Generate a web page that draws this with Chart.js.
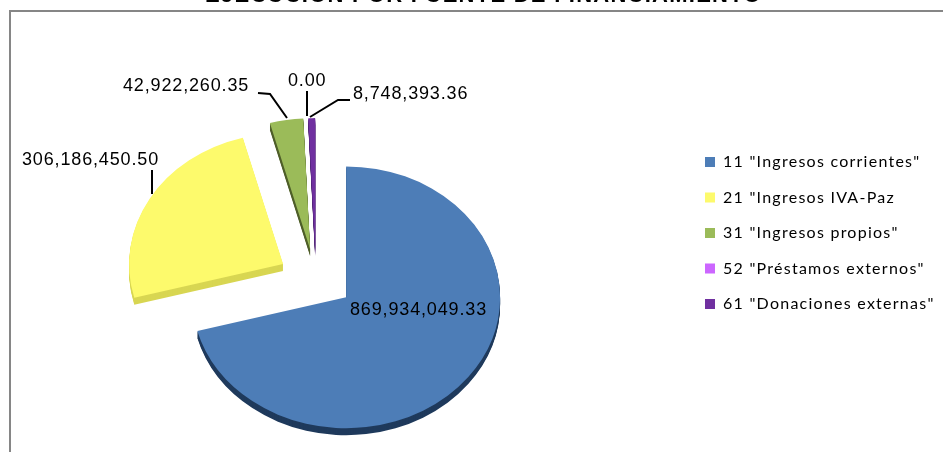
<!DOCTYPE html>
<html>
<head>
<meta charset="utf-8">
<script src="https://cdn.jsdelivr.net/npm/chart.js@4/dist/chart.umd.min.js"></script>
<style>
html, body { margin: 0; padding: 0; background: #fff; overflow: hidden; width: 943px; height: 452px; }
#frame { position: absolute; left: 9px; top: 10px; right: 0; bottom: 0; border-left: 2.5px solid #868686; border-top: 2.5px solid #868686; }
#myChart { position: absolute; left: 0; top: -20px; }
</style>
</head>
<body>
<div id="frame"></div>
<canvas id="myChart" width="943" height="472"></canvas>
<script>
const categories = ['11 "Ingresos corrientes"', '21 "Ingresos IVA-Paz', '31 "Ingresos propios"', '52 "Préstamos externos"', '61 "Donaciones externas"'];
const values = [869934049.33, 306186450.50, 42922260.35, 0.00, 8748393.36];
const sliceColors = ['#4d7db7', '#fdfa6c', '#9bbb59', '#cc66ff', '#7030a0'];
const wallColors = ['#1f3a5c', '#d8d652', '#4f5f2a', '#8a45ad', '#4a2070'];
const valueLabels = ['869,934,049.33', '306,186,450.50', '42,922,260.35', '0.00', '8,748,393.36'];

// canvas sits 20px above the page so the title gets cut like in the original
const top0 = 20;
const pie = { x: 316, y: 279 + top0, squash: 0.85, explodeX: 38, explodeY: 30, depth: 7 };
const labelSpots = [
    { x: 350, y: 310, line: null },
    { x: 22, y: 160, line: [[152, 170], [152, 194]] },
    { x: 123, y: 86, line: [[258, 93], [270, 94], [287, 118]] },
    { x: 288, y: 81, line: [[307, 91], [307, 116]] },
    { x: 353, y: 94, line: [[350, 100], [338, 100], [310, 117]] }
];

const tiltedPie = {
    id: 'tiltedPie',
    beforeDatasetDraw: function (chart, args) {
        const ctx = chart.ctx;
        const arcs = args.meta.data;
        const place = function (arc, dy) {
            const mid = (arc.startAngle + arc.endAngle) / 2;
            ctx.translate(pie.x + Math.cos(mid) * pie.explodeX, pie.y + Math.sin(mid) * pie.explodeY + dy);
            ctx.scale(1, pie.squash);
            ctx.translate(-arc.x, -arc.y);
        };
        // side wall first, then the top face
        arcs.forEach(function (arc, i) {
            const face = arc.options;
            arc.options = Object.assign({}, face, { backgroundColor: wallColors[i], borderWidth: 0 });
            for (let d = pie.depth; d > 0; d--) {
                ctx.save();
                place(arc, d);
                arc.draw(ctx);
                ctx.restore();
            }
            arc.options = face;
        });
        arcs.forEach(function (arc) {
            ctx.save();
            place(arc, 0);
            arc.draw(ctx);
            ctx.restore();
        });
        return false;
    },
    afterDatasetsDraw: function (chart) {
        const ctx = chart.ctx;
        ctx.save();
        ctx.font = '18px "Liberation Sans"';
        ctx.letterSpacing = '0.85px';
        ctx.fillStyle = '#000';
        ctx.textBaseline = 'middle';
        ctx.strokeStyle = '#000';
        ctx.lineWidth = 2;
        labelSpots.forEach(function (spot, i) {
            ctx.fillText(valueLabels[i], spot.x, spot.y + top0);
            if (spot.line) {
                ctx.beginPath();
                spot.line.forEach(function (p, j) {
                    if (j === 0) ctx.moveTo(p[0], p[1] + top0);
                    else ctx.lineTo(p[0], p[1] + top0);
                });
                ctx.stroke();
            }
        });
        ctx.restore();
    },
    afterLayout: function (chart) {
        chart.titleBlock.left += 24;
        const legend = chart.legend;
        const h = legend.bottom - legend.top;
        legend.left = 685.5;
        legend.right = 943;
        legend.top = 233 + top0 - h / 2;
        legend.bottom = legend.top + h;
    },
    beforeDraw: function (chart) {
        chart.ctx.letterSpacing = '1.25px';
    }
};

document.addEventListener('DOMContentLoaded', function () {
    const ctx = document.getElementById('myChart').getContext('2d');

    new Chart(ctx, {
        type: 'pie',
        data: {
            labels: categories,
            datasets: [{
                data: values,
                backgroundColor: sliceColors,
                borderWidth: 0
            }]
        },
        options: {
            responsive: false,
            animation: false,
            radius: 154,
            plugins: {
                title: {
                    display: true,
                    text: 'EJECUCION POR FUENTE DE FINANCIAMIENTO',
                    color: '#000',
                    padding: { top: 3, bottom: 0 },
                    font: { family: '"Liberation Sans"', size: 22, weight: 'bold' }
                },
                legend: {
                    position: 'right',
                    labels: {
                        boxWidth: 10,
                        boxHeight: 10,
                        padding: 19.5,
                        color: '#000',
                        font: { family: 'Lato', size: 16 }
                    }
                },
                tooltip: { enabled: false }
            }
        },
        plugins: [tiltedPie]
    });
});
</script>
</body>
</html>
